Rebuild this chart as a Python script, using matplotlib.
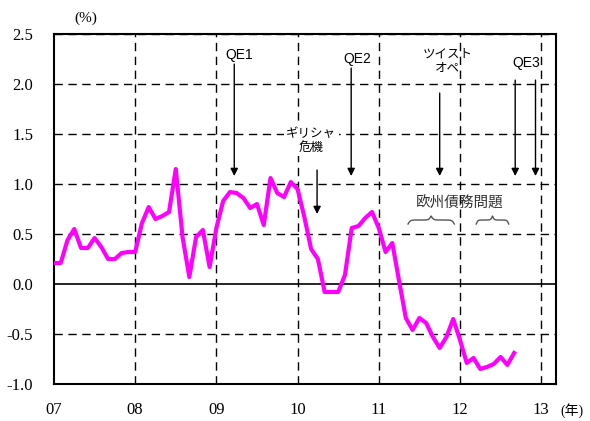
import matplotlib
matplotlib.use("Agg")
import matplotlib.pyplot as plt
import numpy as np

# 月次データ 2007/01 - 2012/09 (%)
start_year = 2007
values = [0.21, 0.21, 0.44, 0.55, 0.36, 0.36, 0.46, 0.37, 0.25, 0.25, 0.31, 0.32,
          0.32, 0.61, 0.77, 0.65, 0.68, 0.72, 1.15, 0.47, 0.07, 0.47, 0.54, 0.17,
          0.56, 0.83, 0.92, 0.91, 0.86, 0.76, 0.80, 0.59, 1.06, 0.91, 0.87, 1.02,
          0.95, 0.67, 0.35, 0.25, -0.08, -0.08, -0.08, 0.09, 0.56, 0.58, 0.66, 0.72,
          0.56, 0.32, 0.41, 0.03, -0.34, -0.46, -0.34, -0.39, -0.53, -0.64, -0.53, -0.35,
          -0.56, -0.79, -0.74, -0.85, -0.83, -0.80, -0.73, -0.81, -0.69]
year_ticks = [2007, 2008, 2009, 2010, 2011, 2012, 2013]
year_labels = ["07", "08", "09", "10", "11", "12", "13"]
y_ticks = [-1.0, -0.5, 0.0, 0.5, 1.0, 1.5, 2.0, 2.5]

# イベント (年, 矢印の上端)
events = [(2009.22, 2.20), (2010.66, 2.16), (2011.75, 1.91),
          (2012.68, 2.04), (2012.93, 2.04)]
greece_x = 2010.24
euro_braces = [(2011.36, 2011.93), (2012.20, 2012.60)]

x = start_year + np.arange(len(values)) / 12.0

serif = ["Liberation Serif", "Noto Sans CJK JP"]
jp = ["Noto Sans CJK JP", "DejaVu Sans"]
sans = ["Liberation Sans", "DejaVu Sans"]
plt.rcParams["font.family"] = serif

fig = plt.figure(figsize=(5.9, 4.21), dpi=100)
ax = fig.add_axes([0.0915, 0.088, 0.851, 0.831])

ax.plot(x, values, color="#FF00FF", lw=3.0, zorder=3)

ax.set_xlim(2007, 2013 + 2.2 / 12)
ax.set_ylim(-1.0, 2.5)

# グリッド
for yr in year_ticks[1:]:
    ax.axvline(yr, color="black", lw=1, ls=(0, (6, 4)), zorder=1)
for yv in y_ticks:
    if yv not in (-1.0, 0.0):
        ax.axhline(yv, color="black", lw=1, ls=(0, (6, 4)), zorder=1)
ax.axhline(0, color="black", lw=1.2, zorder=2)

ax.set_xticks(year_ticks)
ax.set_xticklabels(year_labels, fontsize=12)
ax.set_yticks(y_ticks)
ax.set_yticklabels(["%.1f" % v for v in y_ticks], fontsize=12)
ax.tick_params(length=0)
ax.tick_params(axis="x", pad=13)
ax.tick_params(axis="y", pad=15)
for s in ax.spines.values():
    s.set_linewidth(1.5)
    s.set_color("black")

fig.text(0.145, 0.957, "(%)", fontsize=11, ha="center", va="center")
fig.text(0.97, 0.026, "(年)", fontsize=10, ha="center", va="center")

# 矢印
arrow = dict(arrowstyle="-|>", color="black", lw=1, mutation_scale=11,
             shrinkA=0, shrinkB=0)
for xe, ytop in events:
    ax.annotate("", xy=(xe, 1.08), xytext=(xe, ytop), arrowprops=arrow)
ax.text(2009.28, 2.29, "QE1", family=sans, fontsize=10, ha="center", va="center")
ax.text(2010.73, 2.25, "QE2", family=sans, fontsize=10, ha="center", va="center")
ax.text(2011.85, 2.23, "ツイスト\nオペ", family=jp, fontsize=9, ha="center",
        va="center", linespacing=1.1)
ax.text(2012.82, 2.21, "QE3", family=sans, fontsize=10, ha="center", va="center")

ax.annotate("", xy=(greece_x, 0.70), xytext=(greece_x, 1.14), arrowprops=arrow)
ax.text(greece_x - 0.07, 1.44, "ギリシャ\n危機", family=jp, fontsize=9, ha="center",
        va="center", linespacing=1.1,
        bbox=dict(facecolor="white", edgecolor="none", pad=2), zorder=4)

# 欧州債務問題の波括弧
ax.text(2011.99, 0.81, "欧州債務問題", family=jp, fontsize=10.5, ha="center",
        va="center", color="#333333")


def brace(ax, x0, x1, y0, h):
    n = 201
    xs = np.linspace(x0, x1, n)
    half = xs[: n // 2 + 1]
    beta = 40.0 / (x1 - x0)
    yh = (1 / (1 + np.exp(-beta * (half - half[0]))) +
          1 / (1 + np.exp(-beta * (half - half[-1]))))
    ys = np.concatenate((yh, yh[-2::-1]))
    ys = y0 + (ys - ys.min()) / (ys.max() - ys.min()) * h
    ax.plot(xs, ys, color="#555555", lw=1, zorder=2)


for b0, b1 in euro_braces:
    brace(ax, b0, b1, 0.60, 0.08)

fig.savefig("out.png", dpi=100)
